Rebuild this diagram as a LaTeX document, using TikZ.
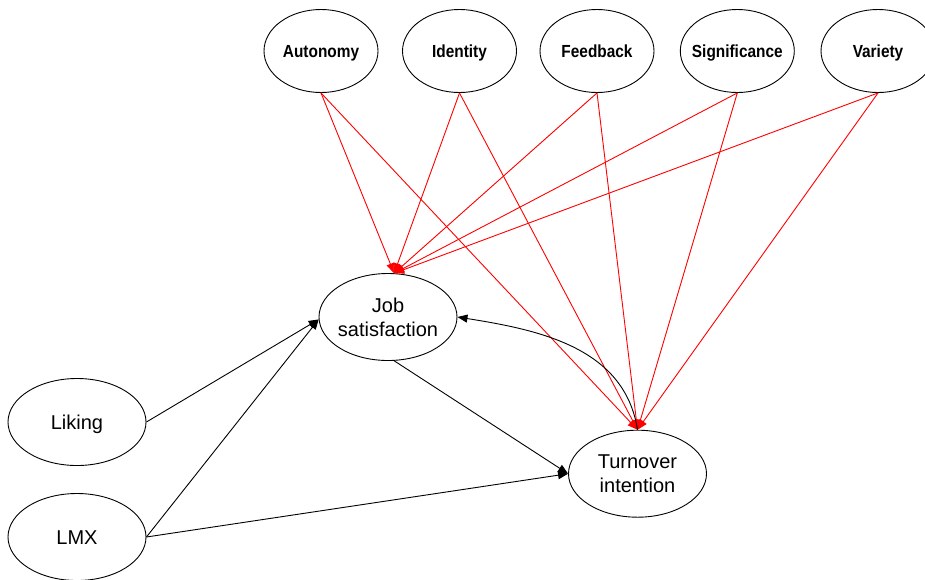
\documentclass[tikz,border=0pt]{standalone}
\usepackage{fontspec}
\setmainfont{Liberation Sans}
\newfontfamily\topfont[FakeStretch=0.88]{Liberation Sans}
\usetikzlibrary{arrows.meta,shapes.geometric}
\begin{document}
\begin{tikzpicture}[x=1pt,y=1pt,
  ell/.style={draw=black, line width=0.9pt, ellipse, inner sep=0pt},
  topell/.style={ell, minimum width=114pt, minimum height=83pt},
  botell/.style={ell, minimum width=138pt, minimum height=87pt},
  toptxt/.style={font=\topfont\bfseries\fontsize{17.5}{20}\selectfont, inner sep=0pt, text height=12.5pt, text depth=0pt},
  bottxt/.style={font=\fontsize{20}{24}\selectfont, inner sep=0pt, align=center},
  onetxt/.style={font=\fontsize{20}{24}\selectfont, inner sep=0pt, text height=14.3pt, text depth=0pt},
  redarr/.style={draw=red, line width=0.9pt, -{Triangle[length=10pt,width=8pt]}},
  blkarr/.style={draw=black, line width=0.9pt, -{Triangle[length=10pt,width=8pt]}}
]
\useasboundingbox (0,0) rectangle (925,-579);

% top ellipses
\node[topell] (aut) at (321,-51) {};
\node[topell] (ide) at (459.5,-51) {};
\node[topell] (fee) at (597,-51) {};
\node[topell] (sig) at (737.3,-51) {};
\node[topell] (var) at (878,-51) {};
\node[toptxt] (autt) at (aut) {Autonomy};
\node[toptxt] (idet) at (ide) {Identity};
\node[toptxt] (feet) at (fee) {Feedback};
\node[toptxt] (sigt) at (sig) {Significance};
\node[toptxt] (vart) at (var) {Variety};

% lower ellipses
\node[botell] (js) at (388,-317) {};
\node[botell] (ti) at (637.5,-473.7) {};
\node[botell] (lik) at (77,-422) {};
\node[botell] (lmx) at (77,-537) {};
\node[bottxt] (jst) at (js) {Job\\satisfaction};
\node[bottxt] (tit) at (ti) {Turnover\\intention};
\node[onetxt] (likt) at (lik) {Liking};
\node[onetxt] (lmxt) at (lmx) {LMX};

% red paths
\foreach \s in {aut,ide,fee,sig,var}{
  \draw[redarr] (\s.south) -- (js.82);
  \draw[redarr] (\s.south) -- (ti.north);
}

% black paths
\draw[blkarr] (lik.east) -- (js.182);
\draw[blkarr] (lmx.east) -- (js.182);
\draw[blkarr] (lmx.east) -- (ti.west);
\draw[blkarr] (js.-82) -- (ti.west);
\draw[blkarr] (ti.north) to[out=99,in=-9] (js.east);
\end{tikzpicture}
\end{document}
